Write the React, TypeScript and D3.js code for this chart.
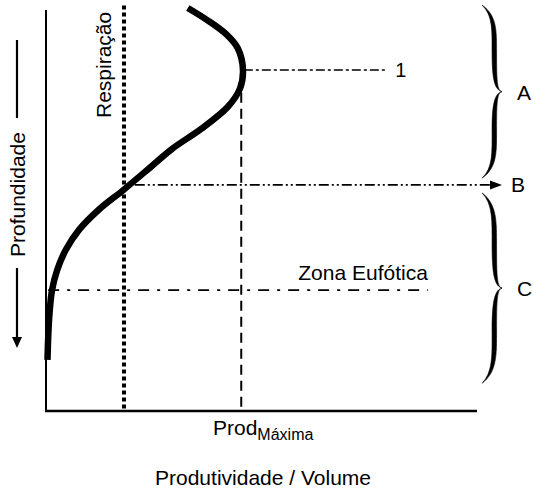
import React from "react";
import * as d3 from "d3";

// Productivity profile (x = productivity, y = depth)
const profileDepth = [0, 3, 6.5, 10, 15.4, 20, 24.5, 30, 35, 40, 45.2, 50, 55, 60, 65, 70, 76, 82, 87.3];
const profileProd = [32.9, 37.4, 41.8, 44.5, 45.7, 45.0, 42.2, 36.0, 29.2, 23.7, 17.9, 12.3, 7.7, 4.6, 2.6, 1.4, 0.8, 0.5, 0.35];

const respiration = 18.1;
const prodMax = 45.3;

// horizontal reference lines: label, depth, start, end
const refLabels = ["1", "B", "Zona Eufótica"];
const refDepths = [15.4, 43.9, 70.0];
const refStarts = [45.9, 20.6, 0.5];
const refEnds = [78.7, 105.8, 88.6];

// braces on the right: label, depth range
const braceLabels = ["A", "C"];
const braceTops = [-0.7, 45.9];
const braceBottoms = [42.2, 93.1];

const W = 533;
const H = 490;
const FONT = "Liberation Sans, Arial, Helvetica, sans-serif";

const App: React.FC = () => {
  const x = d3.scaleLinear().domain([0, 100]).range([46, 477]);
  const y = d3.scaleLinear().domain([0, 100]).range([8, 411]);

  const points = profileDepth.map((d, i) => ({ depth: d, prod: profileProd[i] }));
  const line = d3
    .line<{ depth: number; prod: number }>()
    .x((d) => x(d.prod))
    .y((d) => y(d.depth))
    .curve(d3.curveCatmullRom.alpha(0.5));

  const dashes = ["9 3 3 3", "10 3 2 3 2 3", "11 8 3 8"];

  // curly brace drawn as a filled shape, thin at the ends and the tip
  const brace = (x0: number, x1: number, yT: number, yB: number) => {
    const h = (yB - yT) / 2;
    const m = yT + h;
    const xb = x0 + (x1 - x0) * 0.6;
    const p = d3.path();
    p.moveTo(x0, yT);
    p.bezierCurveTo(xb - 1, yT + h * 0.12, xb - 2, yT + h * 0.3, xb - 2, yT + h * 0.55);
    p.bezierCurveTo(xb - 2, m - h * 0.12, xb + 1, m - 2, x1, m);
    p.bezierCurveTo(xb + 1, m + 2, xb - 2, m + h * 0.12, xb - 2, m + h * 0.45);
    p.bezierCurveTo(xb - 2, yB - h * 0.3, xb - 1, yB - h * 0.12, x0, yB);
    p.bezierCurveTo(xb + 3, yB - h * 0.12, xb + 2.5, yB - h * 0.3, xb + 2.5, m + h * 0.45);
    p.bezierCurveTo(xb + 2.5, m + h * 0.12, xb + 3, m + 1, x1, m);
    p.bezierCurveTo(xb + 3, m - 1, xb + 2.5, m - h * 0.12, xb + 2.5, yT + h * 0.55);
    p.bezierCurveTo(xb + 2.5, yT + h * 0.3, xb + 3, yT + h * 0.12, x0, yT);
    p.closePath();
    return p.toString();
  };

  return (
    <svg
      width={W}
      height={H}
      style={{ position: "absolute", left: 0, top: 0, background: "#fff" }}
      fontFamily={FONT}
    >
      {/* axes */}
      <line x1={x(0)} x2={x(0)} y1={y(0.5)} y2={y(100)} stroke="#000" strokeWidth={2} />
      <line x1={x(0) - 1} x2={x(100)} y1={y(100)} y2={y(100)} stroke="#000" strokeWidth={2.5} />

      {/* respiration (dotted) */}
      <line
        x1={x(respiration)}
        x2={x(respiration)}
        y1={y(-0.6)}
        y2={y(100)}
        stroke="#000"
        strokeWidth={4}
        strokeDasharray="4 3"
      />
      <text
        transform={`translate(${x(respiration) - 13},118) rotate(-90)`}
        fontSize={21}
      >
        Respiração
      </text>

      {/* max productivity (dashed) */}
      <line
        x1={x(prodMax)}
        x2={x(prodMax)}
        y1={y(21)}
        y2={y(100)}
        stroke="#000"
        strokeWidth={2}
        strokeDasharray="10 6"
      />
      <text x={213} y={435} fontSize={21}>
        Prod
        <tspan fontSize={16} dy={5}>
          Máxima
        </tspan>
      </text>

      {/* reference lines */}
      {refLabels.map((lab, i) => (
        <line
          key={lab}
          x1={x(refStarts[i])}
          x2={i === 1 ? x(refEnds[i]) - 10 : x(refEnds[i])}
          y1={y(refDepths[i])}
          y2={y(refDepths[i])}
          stroke="#000"
          strokeWidth={1.6}
          strokeDasharray={dashes[i]}
        />
      ))}
      <path
        d={`M${x(refEnds[1])},${y(refDepths[1])} l-12,-4.5 l0,9 z`}
        fill="#000"
      />
      <text x={x(refEnds[0]) + 10} y={y(refDepths[0]) + 7} fontSize={20}>
        {refLabels[0]}
      </text>
      <text x={x(refEnds[1]) + 9} y={y(refDepths[1]) + 7.5} fontSize={21}>
        {refLabels[1]}
      </text>
      <text x={x(refEnds[2])} y={y(refDepths[2]) - 10} fontSize={21} textAnchor="end">
        {refLabels[2]}
      </text>

      {/* productivity profile */}
      <path d={line(points) ?? ""} fill="none" stroke="#000" strokeWidth={6.5} />

      {/* braces */}
      {braceLabels.map((lab, i) => {
        const yT = y(braceTops[i]);
        const yB = y(braceBottoms[i]);
        return (
          <g key={lab}>
            <path d={brace(x(101.2), x(105.8), yT, yB)} fill="#000" stroke="#000" strokeWidth={0.6} />
            <text x={x(105.8) + 15} y={(yT + yB) / 2 + 8} fontSize={21}>
              {lab}
            </text>
          </g>
        );
      })}

      {/* depth label with arrow */}
      <line x1={17} x2={17} y1={40} y2={118} stroke="#000" strokeWidth={2.2} />
      <text transform="translate(25,257) rotate(-90)" fontSize={21}>
        Profundidade
      </text>
      <line x1={17} x2={17} y1={268} y2={340} stroke="#000" strokeWidth={2.2} />
      <path d="M17,348 l-5,-11 l10,0 z" fill="#000" />

      {/* x title */}
      <text x={263} y={485} fontSize={21} textAnchor="middle">
        Produtividade / Volume
      </text>
    </svg>
  );
};

export default App;
